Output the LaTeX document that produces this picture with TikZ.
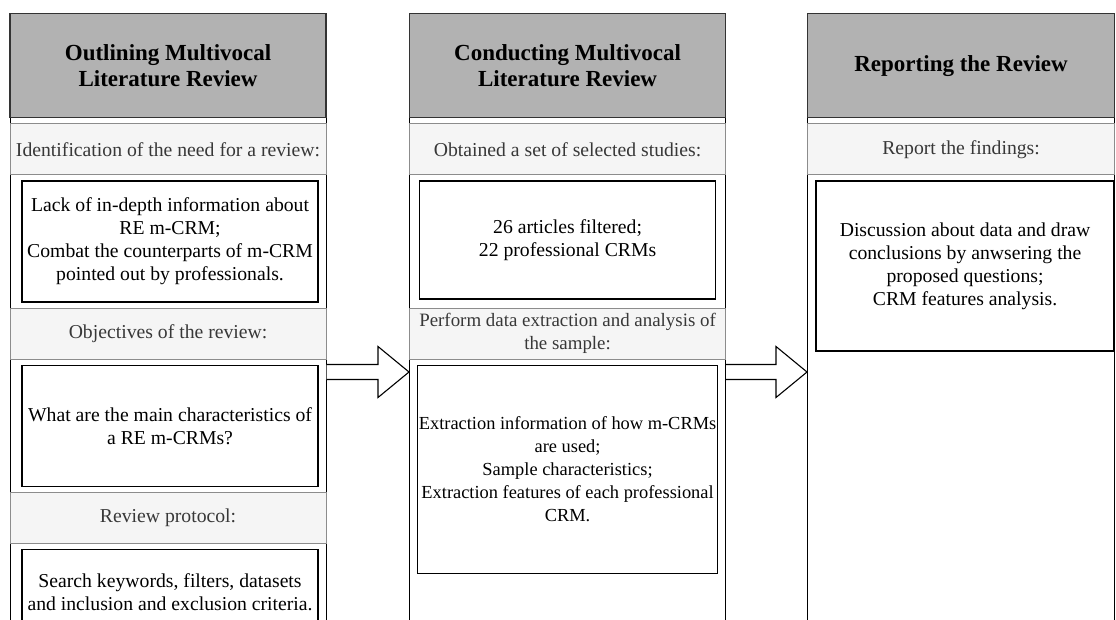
\documentclass[tikz,border=0pt]{standalone}
\usepackage{fontspec}
\setmainfont{Liberation Serif}
\usetikzlibrary{calc,positioning}
\definecolor{headgrey}{gray}{0.70}
\definecolor{bandgrey}{gray}{0.96}
\definecolor{bandline}{gray}{0.55}
\definecolor{bandtext}{gray}{0.22}

\begin{document}
\begin{tikzpicture}[x=1pt,y=-1pt]

\tikzset{colframe/.style={draw=black,line width=1.1pt,fill=white,inner sep=0pt,minimum height=660pt,anchor=north west},
headnode/.style={draw=black!80,line width=1.4pt,fill=headgrey,inner sep=0pt,minimum height=104pt,align=center,font=\fontsize{23}{26}\selectfont\bfseries},
bandnode/.style={draw=bandline,line width=0.9pt,fill=bandgrey,inner sep=1pt,minimum height=51pt,align=center,text=bandtext,font=\fontsize{19.7}{23}\selectfont},
boxnode/.style={draw=black,line width=1.4pt,fill=white,inner sep=1pt,align=center,font=\fontsize{19.7}{23}\selectfont},
blockarrow/.style={draw=black,line width=1.1pt,fill=white,line join=miter}}

\useasboundingbox (0,0) rectangle (1116,619);
\clip (0,0) rectangle (1116,619);

% Column frames
\node[colframe,minimum width=316pt] (frame1) at (9.5,13) {};
\node[colframe,minimum width=316pt] (frame2) at (409,13) {};
\node[colframe,minimum width=307pt] (frame3) at (807,13) {};

% Headers
\node[headnode,anchor=north,minimum width=316pt] (head1) at (frame1.north) {Outlining Multivocal\\Literature Review};
\node[headnode,anchor=north,minimum width=316pt] (head2) at (frame2.north) {Conducting Multivocal\\Literature Review};
\node[headnode,anchor=north,minimum width=307pt] (head3) at (frame3.north) {Reporting the Review};

% First column
\node[bandnode,minimum width=316pt,below=5pt of head1] (band11) {Identification of the need for a review:};
\node[boxnode,minimum width=296pt,minimum height=121pt,below=5pt of band11,xshift=2pt] (box11) {Lack of in-depth information about\\RE m-CRM;\\Combat the counterparts of m-CRM\\pointed out by professionals.};
\node[bandnode,minimum width=316pt,below=5pt of box11,xshift=-2pt] (band12) {Objectives of the review:};
\node[boxnode,minimum width=296pt,minimum height=121pt,below=5pt of band12,xshift=2pt] (box12) {What are the main characteristics of\\a RE m-CRMs?};
\node[bandnode,minimum width=316pt,below=5pt of box12,xshift=-2pt] (band13) {Review protocol:};
\node[boxnode,minimum width=296pt,minimum height=86pt,below=5pt of band13,xshift=2pt] (box13) {Search keywords, filters, datasets\\and inclusion and exclusion criteria.};

% Second column
\node[bandnode,minimum width=316pt,below=5pt of head2] (band21) {Obtained a set of selected studies:};
\node[boxnode,minimum width=296pt,minimum height=118pt,below=5pt of band21] (box21) {26 articles filtered;\\22 professional CRMs};
\node[bandnode,minimum width=316pt,below=8pt of box21,font=\fontsize{18.9}{23}\selectfont] (band22) {Perform data extraction and analysis of\\the sample:};
\node[boxnode,minimum width=300pt,minimum height=208pt,below=5pt of band22,font=\fontsize{18.4}{23}\selectfont] (box22) {Extraction information of how m-CRMs\\are used;\\Sample characteristics;\\Extraction features of each professional\\CRM.};

% Third column
\node[bandnode,minimum width=307pt,below=5pt of head3] (band31) {Report the findings:};
\node[boxnode,minimum width=298pt,minimum height=170pt,below=5pt of band31,xshift=4pt] (box31) {Discussion about data and draw\\conclusions by anwsering the\\proposed questions;\\CRM features analysis.};

% Arrows between columns
\coordinate (arrowrow) at (0,372);
\foreach \from/\to in {frame1/frame2,frame2/frame3}
  \draw[blockarrow] let \p1=(\from.east |- arrowrow), \p2=(\to.west |- arrowrow) in
    (\x1,\y1+7.5pt) -- (\x2-31pt,\y1+7.5pt) -- (\x2-31pt,\y1+25.5pt) -- (\x2,\y1)
    -- (\x2-31pt,\y1-25.5pt) -- (\x2-31pt,\y1-7.5pt) -- (\x1,\y1-7.5pt);

\end{tikzpicture}
\end{document}
